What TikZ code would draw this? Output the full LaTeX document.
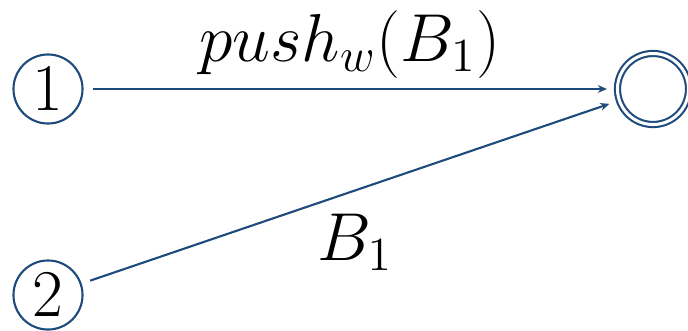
\RequirePackage{fix-cm}
\documentclass[tikz,border=0pt]{standalone}
\definecolor{StateBlue}{HTML}{1F4A7C}
\usepackage{amsmath}
\usepackage{tikz}
\usetikzlibrary{arrows.meta,positioning}

\begin{document}
\begin{tikzpicture}[x=0.01cm,y=-0.01cm,>={Stealth[length=2.6pt,width=2.2pt]},
  state/.style={circle,draw=StateBlue,line width=0.6pt,minimum size=0.69cm,inner sep=0pt,outer sep=0.1cm,font=\fontsize{19}{23}\selectfont},
  accept/.style={state,double=white,double distance=0.03cm,minimum size=0.71cm,outer sep=0.105cm},
  trans/.style={->,draw=StateBlue,line width=0.6pt},
  translabel/.style={font=\fontsize{19.3}{24}\selectfont}]
  \useasboundingbox (0,0) rectangle (688,330);
  \node[state] (q1) at (48,89) {$1$};
  \node[state] (q2) at (48,295) {$2$};
  \node[accept] (qf) at (653,89) {};
  \draw[trans] (q1) -- node[translabel,above,inner sep=0.1cm] (lpush) {$push_w(B_1)$} (qf);
  \draw[trans] (q2) -- node[translabel,below=0.09cm,xshift=0.05cm] (lb1) {$B_1$} (qf);
\end{tikzpicture}
\end{document}
